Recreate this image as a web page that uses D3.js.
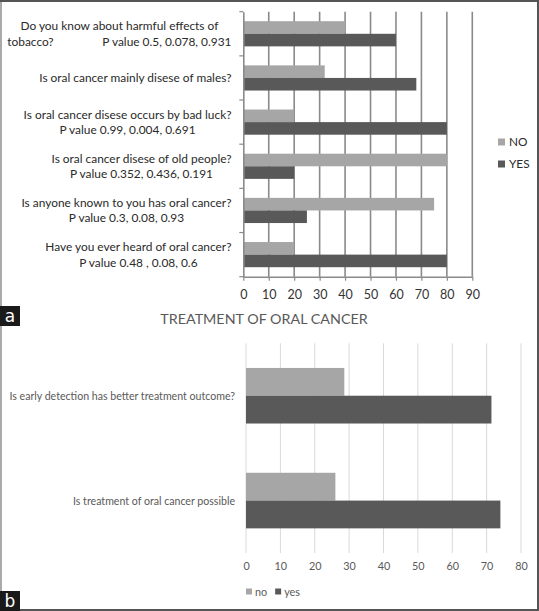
<!DOCTYPE html>
<html><head><meta charset="utf-8">
<script src="https://cdn.jsdelivr.net/npm/d3@7/dist/d3.min.js"></script>
<style>
html,body{margin:0;padding:0;background:#fff;}
svg{display:block;}
</style></head>
<body>
<svg id="chart" width="539" height="611"></svg>
<script>
// ---------- Panel a data ----------
const catsA = [
  ["Do you know about harmful effects of", "tobacco?                P value 0.5, 0.078, 0.931"],
  ["Is oral cancer mainly disese of males?"],
  ["Is oral cancer disese occurs by bad luck?", "P value 0.99, 0.004, 0.691"],
  ["Is oral cancer disese of old people?", "P value 0.352, 0.436, 0.191"],
  ["Is anyone known to you has oral cancer?", "P value 0.3, 0.08, 0.93"],
  ["Have you ever heard of oral cancer?", "P value 0.48 , 0.08, 0.6"]
];
const noA  = [40, 32, 20, 80, 75, 20];
const yesA = [60, 68, 80, 20, 25, 80];
const seriesA = ["NO", "YES"];
const ticksA = [0,10,20,30,40,50,60,70,80,90];

// ---------- Panel b data ----------
const titleB = "TREATMENT OF ORAL CANCER";
const catsB = ["Is early detection has better treatment outcome?", "Is treatment of oral cancer possible"];
const noB  = [28.6, 26];
const yesB = [71.4, 74];
const seriesB = ["no", "yes"];
const ticksB = [0,10,20,30,40,50,60,70,80];

const LIGHT = "#a6a6a6", DARK = "#595959";
const svg = d3.select("#chart");
const FONT = "Lato, 'Open Sans', sans-serif";

// ---------- Panel a ----------
{
  const x = d3.scaleLinear().domain([0, 90]).range([243.3, 472.3]);
  const y = d3.scaleBand().domain(d3.range(catsA.length)).range([11.7, 276.7]).paddingInner(0.43).paddingOuter(0.215);
  const y0 = d3.scaleBand().domain(d3.range(catsA.length)).range([11.7, 276.7]);
  const inner = d3.scaleBand().domain(seriesA).range([0, y.bandwidth()]);
  const g = svg.append("g");

  g.append("g").selectAll("line").data(ticksA.slice(1)).join("line")
    .attr("x1", d => x(d)).attr("x2", d => x(d))
    .attr("y1", 11.7).attr("y2", 276.7)
    .attr("stroke", "#8a8a8a").attr("stroke-width", 1.6);

  const rows = catsA.map((c, i) => ({i, vals: [noA[i], yesA[i]]}));
  const rg = g.append("g").selectAll("g").data(rows).join("g")
    .attr("transform", d => `translate(0,${y(d.i)})`);
  rg.selectAll("rect").data(d => d.vals.map((v, k) => ({k, v}))).join("rect")
    .attr("x", x(0)).attr("y", d => inner(seriesA[d.k]))
    .attr("width", d => x(d.v) - x(0)).attr("height", inner.bandwidth())
    .attr("fill", d => d.k === 0 ? LIGHT : DARK);

  const xa = g.append("g").attr("transform", "translate(0,276.7)")
    .call(d3.axisBottom(x).tickValues(ticksA).tickSize(4).tickSizeOuter(0));
  xa.select(".domain").attr("stroke", "#8a8a8a").attr("stroke-width", 1.6);
  xa.selectAll(".tick line").attr("stroke", "#8a8a8a").attr("stroke-width", 1.2);
  xa.selectAll("text").attr("font-family", FONT).attr("font-size", 12.5).attr("fill", "#333").attr("dy", "1.2em");

  const ya = g.append("g").attr("transform", `translate(${x(0)},0)`)
    .call(d3.axisLeft(y0).tickValues([]).tickSizeOuter(0));
  ya.select(".domain").attr("stroke", "#8a8a8a").attr("stroke-width", 1.6);
  g.append("g").selectAll("line").data(d3.range(catsA.length + 1)).join("line")
    .attr("x1", x(0) - 4).attr("x2", x(0))
    .attr("y1", d => 11.7 + d * y0.step()).attr("y2", d => 11.7 + d * y0.step())
    .attr("stroke", "#8a8a8a").attr("stroke-width", 1.2);

  const lg = g.append("g");
  catsA.forEach((lines, i) => {
    const cy = y0(i) + y0.step() / 2;
    const grp = lg.append("g");
    const ts = grp.selectAll("text").data(lines).join("text")
      .attr("y", (d, k) => cy + (k - (lines.length - 1) / 2) * 15.5)
      .attr("dy", "0.35em")
      .attr("text-anchor", "middle")
      .attr("font-family", FONT).attr("font-size", 11.9).attr("fill", "#2a2a2a")
      .style("white-space", "pre")
      .text(d => d);
    let w = 0; ts.each(function(){ w = Math.max(w, this.getComputedTextLength()); });
    ts.attr("x", 231.5 - w / 2);
  });

  const leg = g.append("g");
  seriesA.forEach((s, k) => {
    const ly = 142 + k * 22;
    leg.append("rect").attr("x", 498).attr("y", ly - 3.5).attr("width", 7).attr("height", 7)
      .attr("fill", k === 0 ? LIGHT : DARK);
    leg.append("text").attr("x", 509).attr("y", ly).attr("dy", "0.35em")
      .attr("font-family", FONT).attr("font-size", 11.8).attr("fill", "#2a2a2a").text(s);
  });
}

// ---------- Panel b ----------
{
  const x = d3.scaleLinear().domain([0, 80]).range([246, 521]);
  const y0 = d3.scaleBand().domain(d3.range(catsB.length)).range([343.3, 553]);
  const y = d3.scaleBand().domain(d3.range(catsB.length)).range([343.3, 553]).paddingInner(0.47).paddingOuter(0.235);
  const inner = d3.scaleBand().domain(seriesB).range([0, y.bandwidth()]);
  const g = svg.append("g");

  g.append("text").attr("x", 264).attr("y", 319).attr("dy", "0.35em").attr("text-anchor", "middle")
    .attr("font-family", FONT).attr("font-size", 14.3).attr("fill", "#595959").text(titleB);

  g.append("g").selectAll("line").data(ticksB).join("line")
    .attr("x1", d => x(d)).attr("x2", d => x(d))
    .attr("y1", 343.3).attr("y2", 553)
    .attr("stroke", "#d9d9d9").attr("stroke-width", 1);

  const rows = catsB.map((c, i) => ({i, vals: [noB[i], yesB[i]]}));
  const rg = g.append("g").selectAll("g").data(rows).join("g")
    .attr("transform", d => `translate(0,${y(d.i)})`);
  rg.selectAll("rect").data(d => d.vals.map((v, k) => ({k, v}))).join("rect")
    .attr("x", x(0)).attr("y", d => inner(seriesB[d.k]))
    .attr("width", d => x(d.v) - x(0)).attr("height", inner.bandwidth())
    .attr("fill", d => d.k === 0 ? LIGHT : DARK);

  const xa = g.append("g").attr("transform", "translate(0,553)")
    .call(d3.axisBottom(x).tickValues(ticksB).tickSize(0));
  xa.select(".domain").remove();
  xa.selectAll("text").attr("font-family", FONT).attr("font-size", 10.8).attr("fill", "#595959").attr("dy", "1.25em");

  g.append("g").selectAll("text").data(catsB).join("text")
    .attr("x", 235).attr("y", (d, i) => y0(i) + y0.step() / 2 + 1)
    .attr("dy", "0.35em").attr("text-anchor", "end")
    .attr("font-family", FONT).attr("font-size", 10.6).attr("fill", "#595959").text(d => d);

  const leg = g.append("g");
  let lx = 246;
  seriesB.forEach((s, k) => {
    leg.append("rect").attr("x", lx).attr("y", 588.5).attr("width", 6).attr("height", 6)
      .attr("fill", k === 0 ? LIGHT : DARK);
    const t = leg.append("text").attr("x", lx + 9).attr("y", 592).attr("dy", "0.35em")
      .attr("font-family", FONT).attr("font-size", 10.8).attr("fill", "#595959").text(s);
    lx += 9 + t.node().getComputedTextLength() + 8;
  });
}

// ---------- frame and panel letters ----------
svg.append("rect").attr("x", 0).attr("y", 0).attr("width", 2).attr("height", 611).attr("fill", "#aaa");
svg.append("rect").attr("x", 0).attr("y", 0).attr("width", 539).attr("height", 2).attr("fill", "#555");
svg.append("rect").attr("x", 537).attr("y", 0).attr("width", 2).attr("height", 611).attr("fill", "#555");
svg.append("rect").attr("x", 0).attr("y", 609).attr("width", 539).attr("height", 2).attr("fill", "#555");

[["a", 306, 20], ["b", 591, 20]].forEach(([l, yy, h]) => {
  svg.append("rect").attr("x", 0).attr("y", yy).attr("width", 20).attr("height", h).attr("fill", "#1a1a1a");
  svg.append("text").attr("x", 10).attr("y", yy + h / 2).attr("dy", "0.35em").attr("text-anchor", "middle")
    .attr("font-family", "'DejaVu Sans', sans-serif").attr("font-size", 17).attr("fill", "#fff").text(l);
});
</script>
</body></html>
